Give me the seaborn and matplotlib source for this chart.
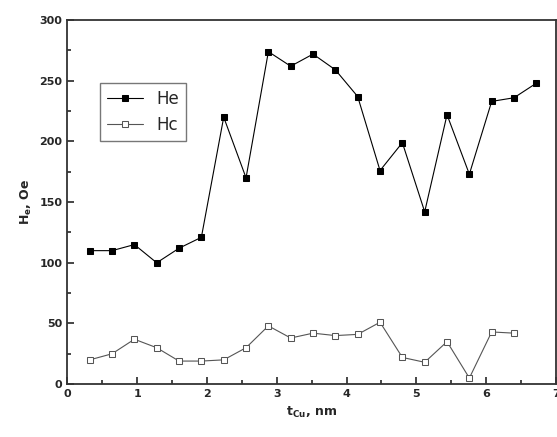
import numpy as np
import pandas as pd
import matplotlib
matplotlib.use("Agg")
import matplotlib.pyplot as plt
import seaborn as sns
from matplotlib.ticker import MultipleLocator

# thickness steps (nm)
t_cu = [0.32, 0.64, 0.96, 1.28, 1.60, 1.92, 2.24, 2.56, 2.88, 3.20, 3.52,
        3.84, 4.16, 4.48, 4.80, 5.12, 5.44, 5.76, 6.08, 6.40, 6.72]
he = [110, 110, 115, 100, 112, 121, 220, 170, 274, 262, 272,
      259, 237, 176, 199, 142, 222, 173, 233, 236, 248]
hc = [20, 25, 37, 30, 19, 19, 20, 30, 48, 38, 42,
      40, 41, 51, 22, 18, 35, 5, 43, 42]

sns.set_style("ticks")
plt.rcParams['font.family'] = ['DejaVu Sans']

fig = plt.figure(figsize=(5.57, 4.37), dpi=100)
ax = fig.add_axes([0.121, 0.121, 0.877, 0.833])

df_he = pd.DataFrame({"t": t_cu, "H": he})
df_hc = pd.DataFrame({"t": t_cu[:len(hc)], "H": hc})

sns.lineplot(data=df_he, x="t", y="H", ax=ax, color="black", lw=0.8,
             marker="s", markersize=5, markerfacecolor="black",
             markeredgecolor="black", label="He")
sns.lineplot(data=df_hc, x="t", y="H", ax=ax, color="#555555", lw=0.8,
             marker="s", markersize=5, markerfacecolor="white",
             markeredgecolor="#555555", label="Hc")

ax.set_xlim(0, 7)
ax.set_ylim(0, 300)
ax.xaxis.set_major_locator(MultipleLocator(1))
ax.xaxis.set_minor_locator(MultipleLocator(0.5))
ax.yaxis.set_major_locator(MultipleLocator(50))
ax.yaxis.set_minor_locator(MultipleLocator(25))
ax.tick_params(which="both", direction="in", labelsize=8, width=1.2)
ax.tick_params(which="major", length=5)
ax.tick_params(which="minor", length=3)
for lab in ax.get_xticklabels() + ax.get_yticklabels():
    lab.set_fontweight("bold")
for s in ax.spines.values():
    s.set_linewidth(1.3)
    s.set_color("#333333")

ax.set_xlabel(r"$\mathbf{t_{Cu}}$, nm", fontsize=9, fontweight="bold")
ax.set_ylabel(r"$\mathbf{H_{e}}$, Oe", fontsize=9, fontweight="bold")

leg = ax.legend(loc="upper left", bbox_to_anchor=(0.05, 0.85), fontsize=12,
                frameon=True, fancybox=False, edgecolor="#555555",
                handlelength=2.2)
leg.get_frame().set_linewidth(1.0)

fig.savefig("out.png", dpi=100)
